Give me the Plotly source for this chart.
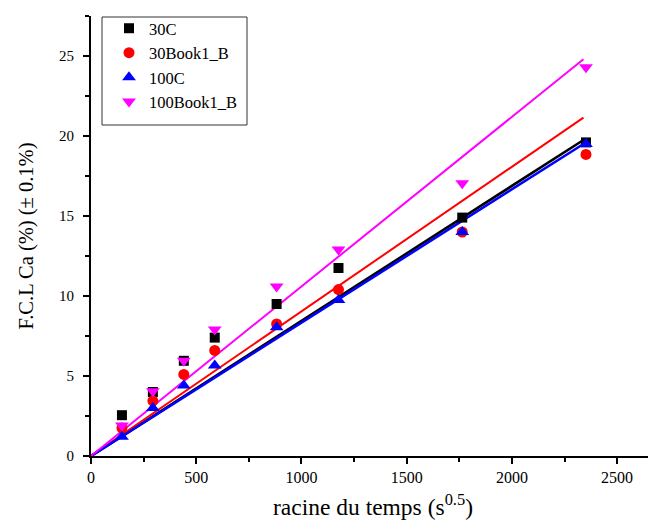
import plotly.graph_objects as go

# Data
x_vals = [147, 294, 441, 588, 882, 1176, 1764, 2352]
y_30C = [2.55, 4.0, 5.95, 7.4, 9.5, 11.75, 14.9, 19.6]
y_30B = [1.75, 3.45, 5.1, 6.6, 8.25, 10.4, 14.0, 18.85]
y_100C = [1.2, 3.0, 4.4, 5.65, 8.05, 9.75, 14.0, 19.5]
y_100B = [1.9, 4.05, 5.95, 7.9, 10.6, 12.9, 17.05, 24.3]

names = ["30C", "30Book1_B", "100C", "100Book1_B"]
fit_x = [0, 2340]
fit_30C = [0, 19.75]
fit_30B = [0, 21.15]
fit_100C = [0, 19.5]
fit_100B = [0, 24.8]

colors = ["black", "red", "blue", "magenta"]
symbols = ["square", "circle", "triangle-up", "triangle-down"]
sizes = [10, 11, 12, 12]
widths = [2.6, 2, 2.6, 2]

series = [y_30C, y_30B, y_100C, y_100B]
fits = [fit_30C, fit_30B, fit_100C, fit_100B]

FONT = "Liberation Serif"
fig = go.Figure()

for ys, fy, c, w in zip(series, fits, colors, widths):
    fig.add_trace(go.Scatter(x=fit_x, y=fy, mode="lines",
                             line=dict(color=c, width=w), showlegend=False,
                             hoverinfo="skip"))

for ys, n, c, s, sz in zip(series, names, colors, symbols, sizes):
    fig.add_trace(go.Scatter(x=x_vals, y=ys, mode="markers", name=n,
                             marker=dict(color=c, symbol=s, size=sz,
                                         line=dict(width=0))))

# page body has an 8px margin; size figure so it ends at the window edge
OFF = 8
W, H = 656 - OFF, 521 - OFF
L, R, T, B = 91 - OFF, 1, 16 - OFF, 65
pw, ph = W - L - R, H - T - B


def px(xp):  # window pixel -> paper x
    return (xp - OFF - L) / pw


def py(yp):  # window pixel -> paper y
    return (H - B - (yp - OFF)) / ph


fig.add_shape(type="rect", xref="paper", yref="paper",
              x0=px(102), x1=px(247), y0=py(125), y1=py(17),
              line=dict(color="#333333", width=1), fillcolor="rgba(0,0,0,0)")

fig.update_layout(
    width=W, height=H,
    margin=dict(l=L, r=R, t=T, b=B, pad=0, autoexpand=False),
    paper_bgcolor="white", plot_bgcolor="white",
    font=dict(family=FONT, color="black", size=15),
    showlegend=True,
    legend=dict(x=px(109), y=py(11), xanchor="left", yanchor="top",
                bgcolor="rgba(0,0,0,0)", borderwidth=0,
                font=dict(family=FONT, size=16.5, color="black"),
                tracegroupgap=0, itemsizing="trace"),
    xaxis=dict(range=[0, 2680], tickmode="linear", tick0=0, dtick=500,
               showgrid=False, zeroline=False, showline=True,
               linecolor="black", linewidth=2, ticks="outside",
               ticklen=6, tickwidth=1.5, tickcolor="black",
               tickfont=dict(family=FONT, size=16),
               minor=dict(dtick=250, ticks="outside", ticklen=4,
                          tickwidth=1.5, tickcolor="black"),
               title=dict(text="racine du temps (s<sup>0.5</sup>)",
                          font=dict(family=FONT, size=23.5), standoff=13)),
    yaxis=dict(range=[0, 27.5], tickmode="linear", tick0=0, dtick=5,
               showgrid=False, zeroline=False, showline=True,
               linecolor="black", linewidth=2, ticks="outside",
               ticklen=6, tickwidth=1.5, tickcolor="black",
               ticklabelstandoff=6,
               tickfont=dict(family=FONT, size=15),
               minor=dict(dtick=2.5, ticks="outside", ticklen=4,
                          tickwidth=1.5, tickcolor="black"),
               title=dict(text="F.C.L Ca (%) (\u00b1 0.1%)",
                          font=dict(family=FONT, size=20.5), standoff=20)),
)

fig.write_html("out.html")
